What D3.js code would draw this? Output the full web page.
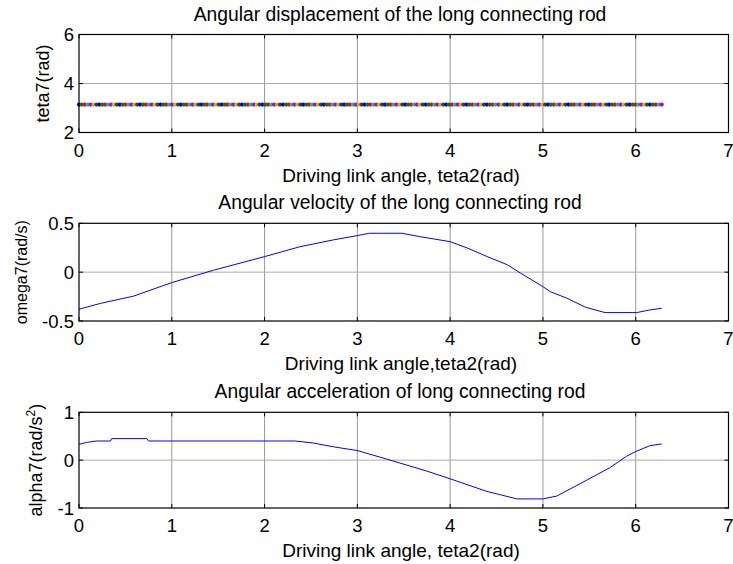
<!DOCTYPE html>
<html>
<head>
<meta charset="utf-8">
<script src="https://cdn.jsdelivr.net/npm/d3@7.9.0/dist/d3.min.js"></script>
<style>
  body { margin: 0; background: #fff; }
  svg { display: block; font-family: "Liberation Sans", Arial, sans-serif; }
</style>
</head>
<body>
<svg id="chart" width="733" height="564"></svg>
<script>
// x axis ticks shared by all three panels
const xTicks = [0, 1, 2, 3, 4, 5, 6, 7];

// panel 1: teta7 is flat at about pi, drawn as coloured dots
const teta7Value = 3.14;
const teta2Step = 0.0314;
const teta2End = 6.2832;
const dotColors = ['#0000ff', '#008000', '#ff0000', '#00bfbf', '#bf00bf', '#bfbf00', '#404040'];

// panel 2: omega7 (rad/s)
const omegaX = [0, 0.23, 0.59, 1.0, 1.45, 2.0, 2.38, 2.74, 3.0, 3.13, 3.48, 3.67, 4.0, 4.19, 4.40, 4.62, 4.76, 5.0, 5.08, 5.26, 5.46, 5.67, 6.01, 6.15, 6.28];
const omegaY = [-0.38, -0.32, -0.245, -0.107, 0.02, 0.159, 0.26, 0.33, 0.374, 0.398, 0.398, 0.364, 0.312, 0.245, 0.159, 0.074, -0.011, -0.148, -0.2, -0.267, -0.36, -0.414, -0.414, -0.387, -0.37];

// panel 3: alpha7 (rad/s^2)
const alphaX = [0, 0.08, 0.19, 0.34, 0.35, 0.73, 0.75, 2.33, 2.52, 2.74, 3.0, 3.32, 3.75, 4.0, 4.39, 4.72, 5.0, 5.15, 5.47, 5.72, 5.9, 6.0, 6.15, 6.28];
const alphaY = [0.33, 0.37, 0.40, 0.40, 0.45, 0.45, 0.40, 0.40, 0.36, 0.28, 0.20, 0.02, -0.23, -0.39, -0.65, -0.81, -0.81, -0.75, -0.42, -0.16, 0.08, 0.18, 0.30, 0.34];

const panels = [
  { title: 'Angular displacement of the long connecting rod', xlabel: 'Driving link angle, teta2(rad)',
    ylabel: 'teta7(rad)', yDomain: [2, 6], yTicks: [2, 4, 6], top: 34.5, h: 98, ylx: 42, ylSize: 18 },
  { title: 'Angular velocity of the long connecting rod', xlabel: 'Driving link angle,teta2(rad)',
    ylabel: 'omega7(rad/s)', yDomain: [-0.5, 0.5], yTicks: [-0.5, 0, 0.5], top: 223.3, h: 97.7, ylx: 20, ylSize: 16 },
  { title: 'Angular acceleration of long connecting rod', xlabel: 'Driving link angle, teta2(rad)',
    ylabel: 'alpha7', yDomain: [-1, 1], yTicks: [-1, 0, 1], top: 412.3, h: 95.7, ylx: 35, ylSize: 18 }
];

const left = 79, right = 728.5;
const svg = d3.select('#chart');
const x = d3.scaleLinear().domain([0, 7]).range([left, right]);

panels.forEach((p, i) => {
  const y = d3.scaleLinear().domain(p.yDomain).range([p.top + p.h, p.top]);
  const g = svg.append('g');
  const bottom = p.top + p.h;

  // grid
  g.selectAll('.vg').data(xTicks.slice(1, -1)).join('line')
    .attr('x1', d => x(d)).attr('x2', d => x(d))
    .attr('y1', p.top).attr('y2', bottom)
    .attr('stroke', '#999').attr('stroke-width', 1);
  g.selectAll('.hg').data(p.yTicks.slice(1, -1)).join('line')
    .attr('x1', left).attr('x2', right)
    .attr('y1', d => y(d)).attr('y2', d => y(d))
    .attr('stroke', '#aaa').attr('stroke-width', 1);

  // data
  if (i === 0) {
    const xs = d3.range(0, teta2End, teta2Step);
    g.selectAll('circle').data(xs).join('circle')
      .attr('cx', d => x(d)).attr('cy', y(teta7Value)).attr('r', 2.1)
      .attr('fill', (d, k) => dotColors[k % dotColors.length]);
  } else {
    const xs = i === 1 ? omegaX : alphaX;
    const ys = i === 1 ? omegaY : alphaY;
    const line = d3.line().x(d => x(d[0])).y(d => y(d[1]));
    g.append('path').attr('d', line(d3.zip(xs, ys)))
      .attr('fill', 'none').attr('stroke', '#0000ff').attr('stroke-width', 1);
  }

  // inward ticks on all four sides
  const tl = 4;
  xTicks.forEach(t => {
    g.append('line').attr('x1', x(t)).attr('x2', x(t)).attr('y1', bottom).attr('y2', bottom - tl).attr('stroke', '#000');
    g.append('line').attr('x1', x(t)).attr('x2', x(t)).attr('y1', p.top).attr('y2', p.top + tl).attr('stroke', '#000');
  });
  p.yTicks.forEach(t => {
    g.append('line').attr('x1', left).attr('x2', left + tl).attr('y1', y(t)).attr('y2', y(t)).attr('stroke', '#000');
    g.append('line').attr('x1', right).attr('x2', right - tl).attr('y1', y(t)).attr('y2', y(t)).attr('stroke', '#000');
  });

  // box
  g.append('rect').attr('x', left).attr('y', p.top).attr('width', right - left).attr('height', p.h)
    .attr('fill', 'none').attr('stroke', '#000').attr('stroke-width', 1.2);

  // tick labels
  g.selectAll('.xt').data(xTicks).join('text')
    .attr('x', d => x(d)).attr('y', bottom + 24)
    .attr('text-anchor', 'middle').attr('font-size', 18.5).text(d => d);
  g.selectAll('.yt').data(p.yTicks).join('text')
    .attr('x', left - 5).attr('y', d => y(d) + 6.5)
    .attr('text-anchor', 'end').attr('font-size', 18.5).text(d => d);

  // title and axis labels
  g.append('text').attr('x', 400).attr('y', p.top - 14)
    .attr('text-anchor', 'middle').attr('font-size', 19.3).text(p.title);
  g.append('text').attr('x', 401).attr('y', bottom + 49)
    .attr('text-anchor', 'middle').attr('font-size', 19).text(p.xlabel);

  const yl = g.append('text')
    .attr('transform', `translate(${p.ylx + 6.5},${p.top + p.h / 2}) rotate(-90)`)
    .attr('text-anchor', 'middle').attr('font-size', p.ylSize).text(p.ylabel);
  if (i === 2) {
    yl.append('tspan').text('(rad/s');
    yl.append('tspan').attr('font-size', 12).attr('dy', -7).text('2');
    yl.append('tspan').attr('dy', 7).text(')');
  }
});
</script>
</body>
</html>
